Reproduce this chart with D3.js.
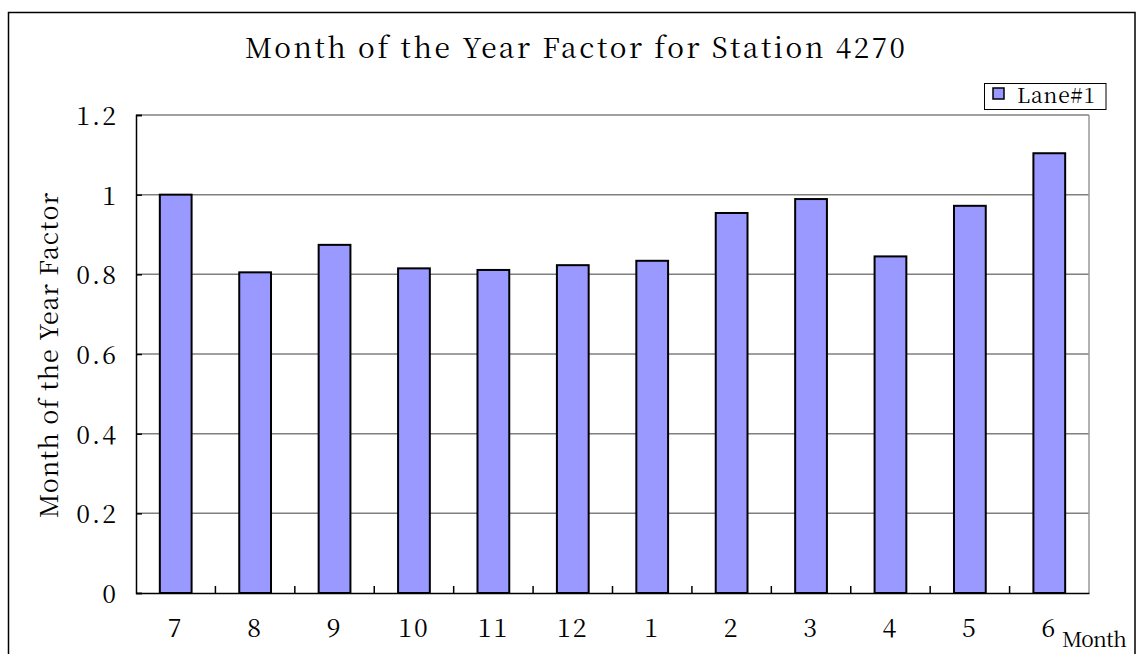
<!DOCTYPE html>
<html>
<head>
<meta charset="utf-8">
<script src="https://cdn.jsdelivr.net/npm/d3@7"></script>
<style>
  html, body { margin: 0; padding: 0; background: #fff; }
  svg { display: block; }
  text { font-family: "Noto Serif CJK SC", "DejaVu Serif", serif; fill: #000; }
</style>
</head>
<body>
<svg id="chart" width="1138" height="654"></svg>
<script>
const months = ["7", "8", "9", "10", "11", "12", "1", "2", "3", "4", "5", "6"];
const factors = [1.0, 0.805, 0.874, 0.815, 0.811, 0.823, 0.834, 0.954, 0.989, 0.845, 0.972, 1.104];
const yTicks = [0, 0.2, 0.4, 0.6, 0.8, 1.0, 1.2];
const seriesName = "Lane#1";
const chartTitle = "Month of the Year Factor for Station 4270";
const yTitle = "Month of the Year Factor";
const xTitle = "Month";

const svg = d3.select("#chart");
const plot = { left: 136, right: 1089, top: 115, bottom: 593 };

// outer chart border
svg.append("rect")
  .attr("x", 8.5).attr("y", 12.5).attr("width", 1126.5).attr("height", 660)
  .attr("fill", "#fff").attr("stroke", "#000").attr("stroke-width", 1.5);

const x = d3.scaleBand().domain(months).range([plot.left, plot.right]).paddingInner(0).paddingOuter(0);
const y = d3.scaleLinear().domain([0, 1.2]).range([plot.bottom, plot.top]);

// gridlines
svg.append("g").selectAll("line").data(yTicks.filter(d => d > 0)).join("line")
  .attr("x1", plot.left).attr("x2", plot.right)
  .attr("y1", d => y(d)).attr("y2", d => y(d))
  .attr("stroke", "#808080").attr("stroke-width", 1.5);

// right border of plot
svg.append("line")
  .attr("x1", plot.right).attr("x2", plot.right)
  .attr("y1", plot.top).attr("y2", plot.bottom)
  .attr("stroke", "#999").attr("stroke-width", 1.5);

// bars
const barW = x.bandwidth() * 0.4;
svg.append("g").selectAll("rect").data(factors).join("rect")
  .attr("x", (d, i) => x(months[i]) + (x.bandwidth() - barW) / 2)
  .attr("y", d => y(d))
  .attr("width", barW)
  .attr("height", d => y(0) - y(d))
  .attr("fill", "#9999FF")
  .attr("stroke", "#000").attr("stroke-width", 2);

// y axis
const yAxis = d3.axisLeft(y).tickValues(yTicks).tickSize(-6).tickPadding(20)
  .tickFormat(d => d3.format("")(+d.toFixed(1)));
const gy = svg.append("g").attr("transform", `translate(${plot.left},0)`).call(yAxis);
gy.attr("font-family", null).attr("font-size", null);
gy.select(".domain").attr("stroke", "#000").attr("stroke-width", 1.5);
gy.selectAll(".tick line").attr("stroke", "#000").attr("stroke-width", 1.5);
gy.selectAll(".tick text")
  .style("font-size", "25px").style("letter-spacing", "2px")
  .attr("x", -18).attr("dy", "0.38em");

// x axis
const xAxis = d3.axisBottom(x).tickSize(0).tickPadding(0);
const gx = svg.append("g").attr("transform", `translate(0,${plot.bottom})`).call(xAxis);
gx.attr("font-family", null).attr("font-size", null);
gx.select(".domain").attr("stroke", "#000").attr("stroke-width", 1.5);
gx.selectAll(".tick text")
  .style("font-size", "25px").style("letter-spacing", "2px")
  .attr("y", 44).attr("dy", 0);
// inward tick marks at category boundaries
svg.append("g").selectAll("line").data(months.slice(1)).join("line")
  .attr("x1", d => x(d)).attr("x2", d => x(d))
  .attr("y1", plot.bottom).attr("y2", plot.bottom - 7)
  .attr("stroke", "#000").attr("stroke-width", 1.5);

// title
svg.append("text").attr("x", 245).attr("y", 58)
  .attr("textLength", 660).attr("lengthAdjust", "spacing")
  .style("font-size", "28px")
  .text(chartTitle);

// y title
svg.append("text")
  .attr("transform", "translate(58,518) rotate(-90)")
  .attr("textLength", 325).attr("lengthAdjust", "spacing")
  .style("font-size", "25px")
  .text(yTitle);

// x title
svg.append("text").attr("x", 1062).attr("y", 647)
  .attr("textLength", 65).attr("lengthAdjust", "spacing")
  .style("font-size", "21px")
  .text(xTitle);

// legend
const lg = svg.append("g");
lg.append("rect").attr("x", 984.5).attr("y", 83.5).attr("width", 121.5).attr("height", 26)
  .attr("fill", "#fff").attr("stroke", "#000").attr("stroke-width", 1);
lg.append("rect").attr("x", 993).attr("y", 88).attr("width", 11).attr("height", 11)
  .attr("fill", "#9999FF").attr("stroke", "#000").attr("stroke-width", 1.5);
lg.append("text").attr("x", 1017).attr("y", 103)
  .attr("textLength", 78).attr("lengthAdjust", "spacing")
  .style("font-size", "21px")
  .text(seriesName);
</script>
</body>
</html>
